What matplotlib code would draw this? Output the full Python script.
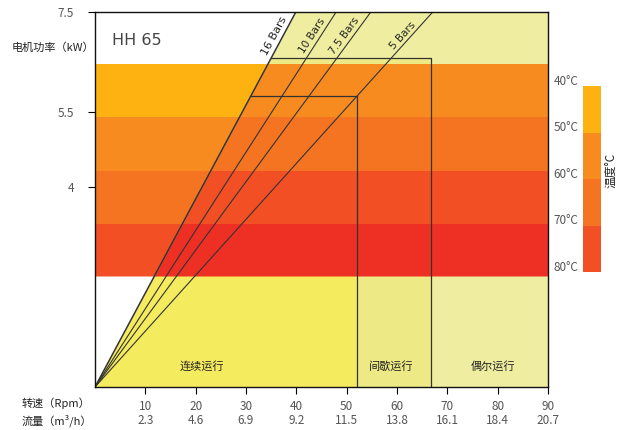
import numpy as np
import matplotlib.pyplot as plt

plt.rcParams['font.family'] = ['Noto Sans CJK SC', 'DejaVu Sans']

# axis data
rpm_ticks = [10, 20, 30, 40, 50, 60, 70, 80, 90]
flow_ticks = ["2.3", "4.6", "6.9", "9.2", "11.5", "13.8", "16.1", "18.4", "20.7"]
power_ticks = [4, 5.5, 7.5]

# pressure lines: rpm at which each line reaches 7.5 kW
pressure_labels = ["16 Bars", "10 Bars", "7.5 Bars", "5 Bars"]
pressure_rpm_top = [39.9, 47.9, 54.8, 67.1]

# temperature bands (kW edges, top to bottom)
temp_labels = ["40°C", "50°C", "60°C", "70°C", "80°C"]
band_edges = [6.47, 5.41, 4.33, 3.27, 2.22]
temp_colors = ["#FDB212", "#F78B1F", "#F47421", "#F34F24", "#EE2F24"]

# operating zones
zone_names = ["连续运行", "间歇运行", "偶尔运行"]
zone_rpm = [52.1, 66.8, 90]
zone_kw = [5.82, 6.58, 7.5]
zone_colors = ["#F5EB5F", "#EDE985", "#EFEEA0"]
zone_label_rpm = [21.2, 58.9, 79.1]

fig = plt.figure(figsize=(6.21, 4.3), dpi=100)
ax = fig.add_axes([95 / 621, 43 / 430, 453 / 621, 375 / 430])
ax.set_xlim(0, 90)
ax.set_ylim(0, 7.5)

k16 = 7.5 / pressure_rpm_top[0]  # kW per rpm of the 16 bar line


def x16(y):
    return y / k16


# zones right of the 16 bar line, widest first
for r, p, c in sorted(zip(zone_rpm, zone_kw, zone_colors), reverse=True):
    yy = np.linspace(0, p, 50)
    ax.fill_betweenx(yy, x16(yy), r, color=c, lw=0)

# temperature bands: left of the 16 bar line one shade lighter
for i in range(len(band_edges) - 1):
    yy = np.linspace(band_edges[i + 1], band_edges[i], 20)
    ax.fill_betweenx(yy, 0, x16(yy), color=temp_colors[i], lw=0)
    ax.fill_betweenx(yy, x16(yy), 90, color=temp_colors[i + 1], lw=0)

# zone boxes
for r, p in zip(zone_rpm[:2], zone_kw[:2]):
    ax.plot([x16(p), r, r], [p, p, 0], color="#333333", lw=0.9)

# pressure lines with labels
for name, xt in zip(pressure_labels, pressure_rpm_top):
    lw = 1.1 if name == "16 Bars" else 0.8
    ax.plot([0, xt], [0, 7.5], color="#333333", lw=lw)
    p0 = ax.transData.transform((0, 0))
    p1 = ax.transData.transform((xt, 7.5))
    ang = np.degrees(np.arctan2(p1[1] - p0[1], p1[0] - p0[0]))
    yl = 7.02
    ax.text(xt * yl / 7.5 - 1.7, yl, name, rotation=ang, rotation_mode="anchor",
            ha="center", va="center", fontsize=7.5 if name != "16 Bars" else 8,
            color="#222222", family="DejaVu Sans")

for name, xr in zip(zone_names, zone_label_rpm):
    ax.text(xr, 0.42, name, ha="center", va="center", fontsize=8, color="#222222")

ax.text(3.4, 6.93, "HH 65", fontsize=11.5, color="#444444", va="center",
        family="DejaVu Sans")

ax.set_xticks(rpm_ticks)
ax.set_xticklabels([str(v) for v in rpm_ticks])
ax.set_yticks(power_ticks)
ax.set_yticklabels(["4", "5.5", "7.5"])
ax.tick_params(axis="both", direction="out", length=5, width=0.8,
               labelsize=8.5, labelcolor="#555555", pad=4)
ax.tick_params(axis="y", pad=10)
for x, f in zip(rpm_ticks, flow_ticks):
    ax.text(x, -34 / 375, f, transform=ax.get_xaxis_transform(), ha="center",
            va="center", fontsize=8.5, color="#555555")
for s in ax.spines.values():
    s.set_linewidth(1.0)
    s.set_color("#111111")

fig.text(12 / 621, 1 - 48 / 430, "电机功率（kW）", fontsize=8, color="#222222",
         va="center")
fig.text(22 / 621, 1 - 403 / 430, "转速（Rpm）", fontsize=8, color="#222222",
         va="center")
fig.text(22 / 621, 1 - 421 / 430, "流量（m³/h）", fontsize=8, color="#222222",
         va="center")

# temperature legend
cax = fig.add_axes([583 / 621, 158 / 430, 18 / 621, 186 / 430])
cax.set_xlim(0, 1)
cax.set_ylim(80, 40)
for i, c in enumerate(temp_colors[:4]):
    cax.axhspan(40 + 10 * i, 50 + 10 * i, color=c, lw=0)
cax.axis("off")
for i, t in enumerate(temp_labels):
    cax.text(-0.25, 40 + 10 * i - 1, t, ha="right", va="center", fontsize=8.5,
             color="#555555")
fig.text(611 / 621, 1 - 170 / 430, "温度°C", rotation=90, fontsize=8.5,
         color="#222222", ha="center", va="center")

fig.savefig("out.png", dpi=100)
